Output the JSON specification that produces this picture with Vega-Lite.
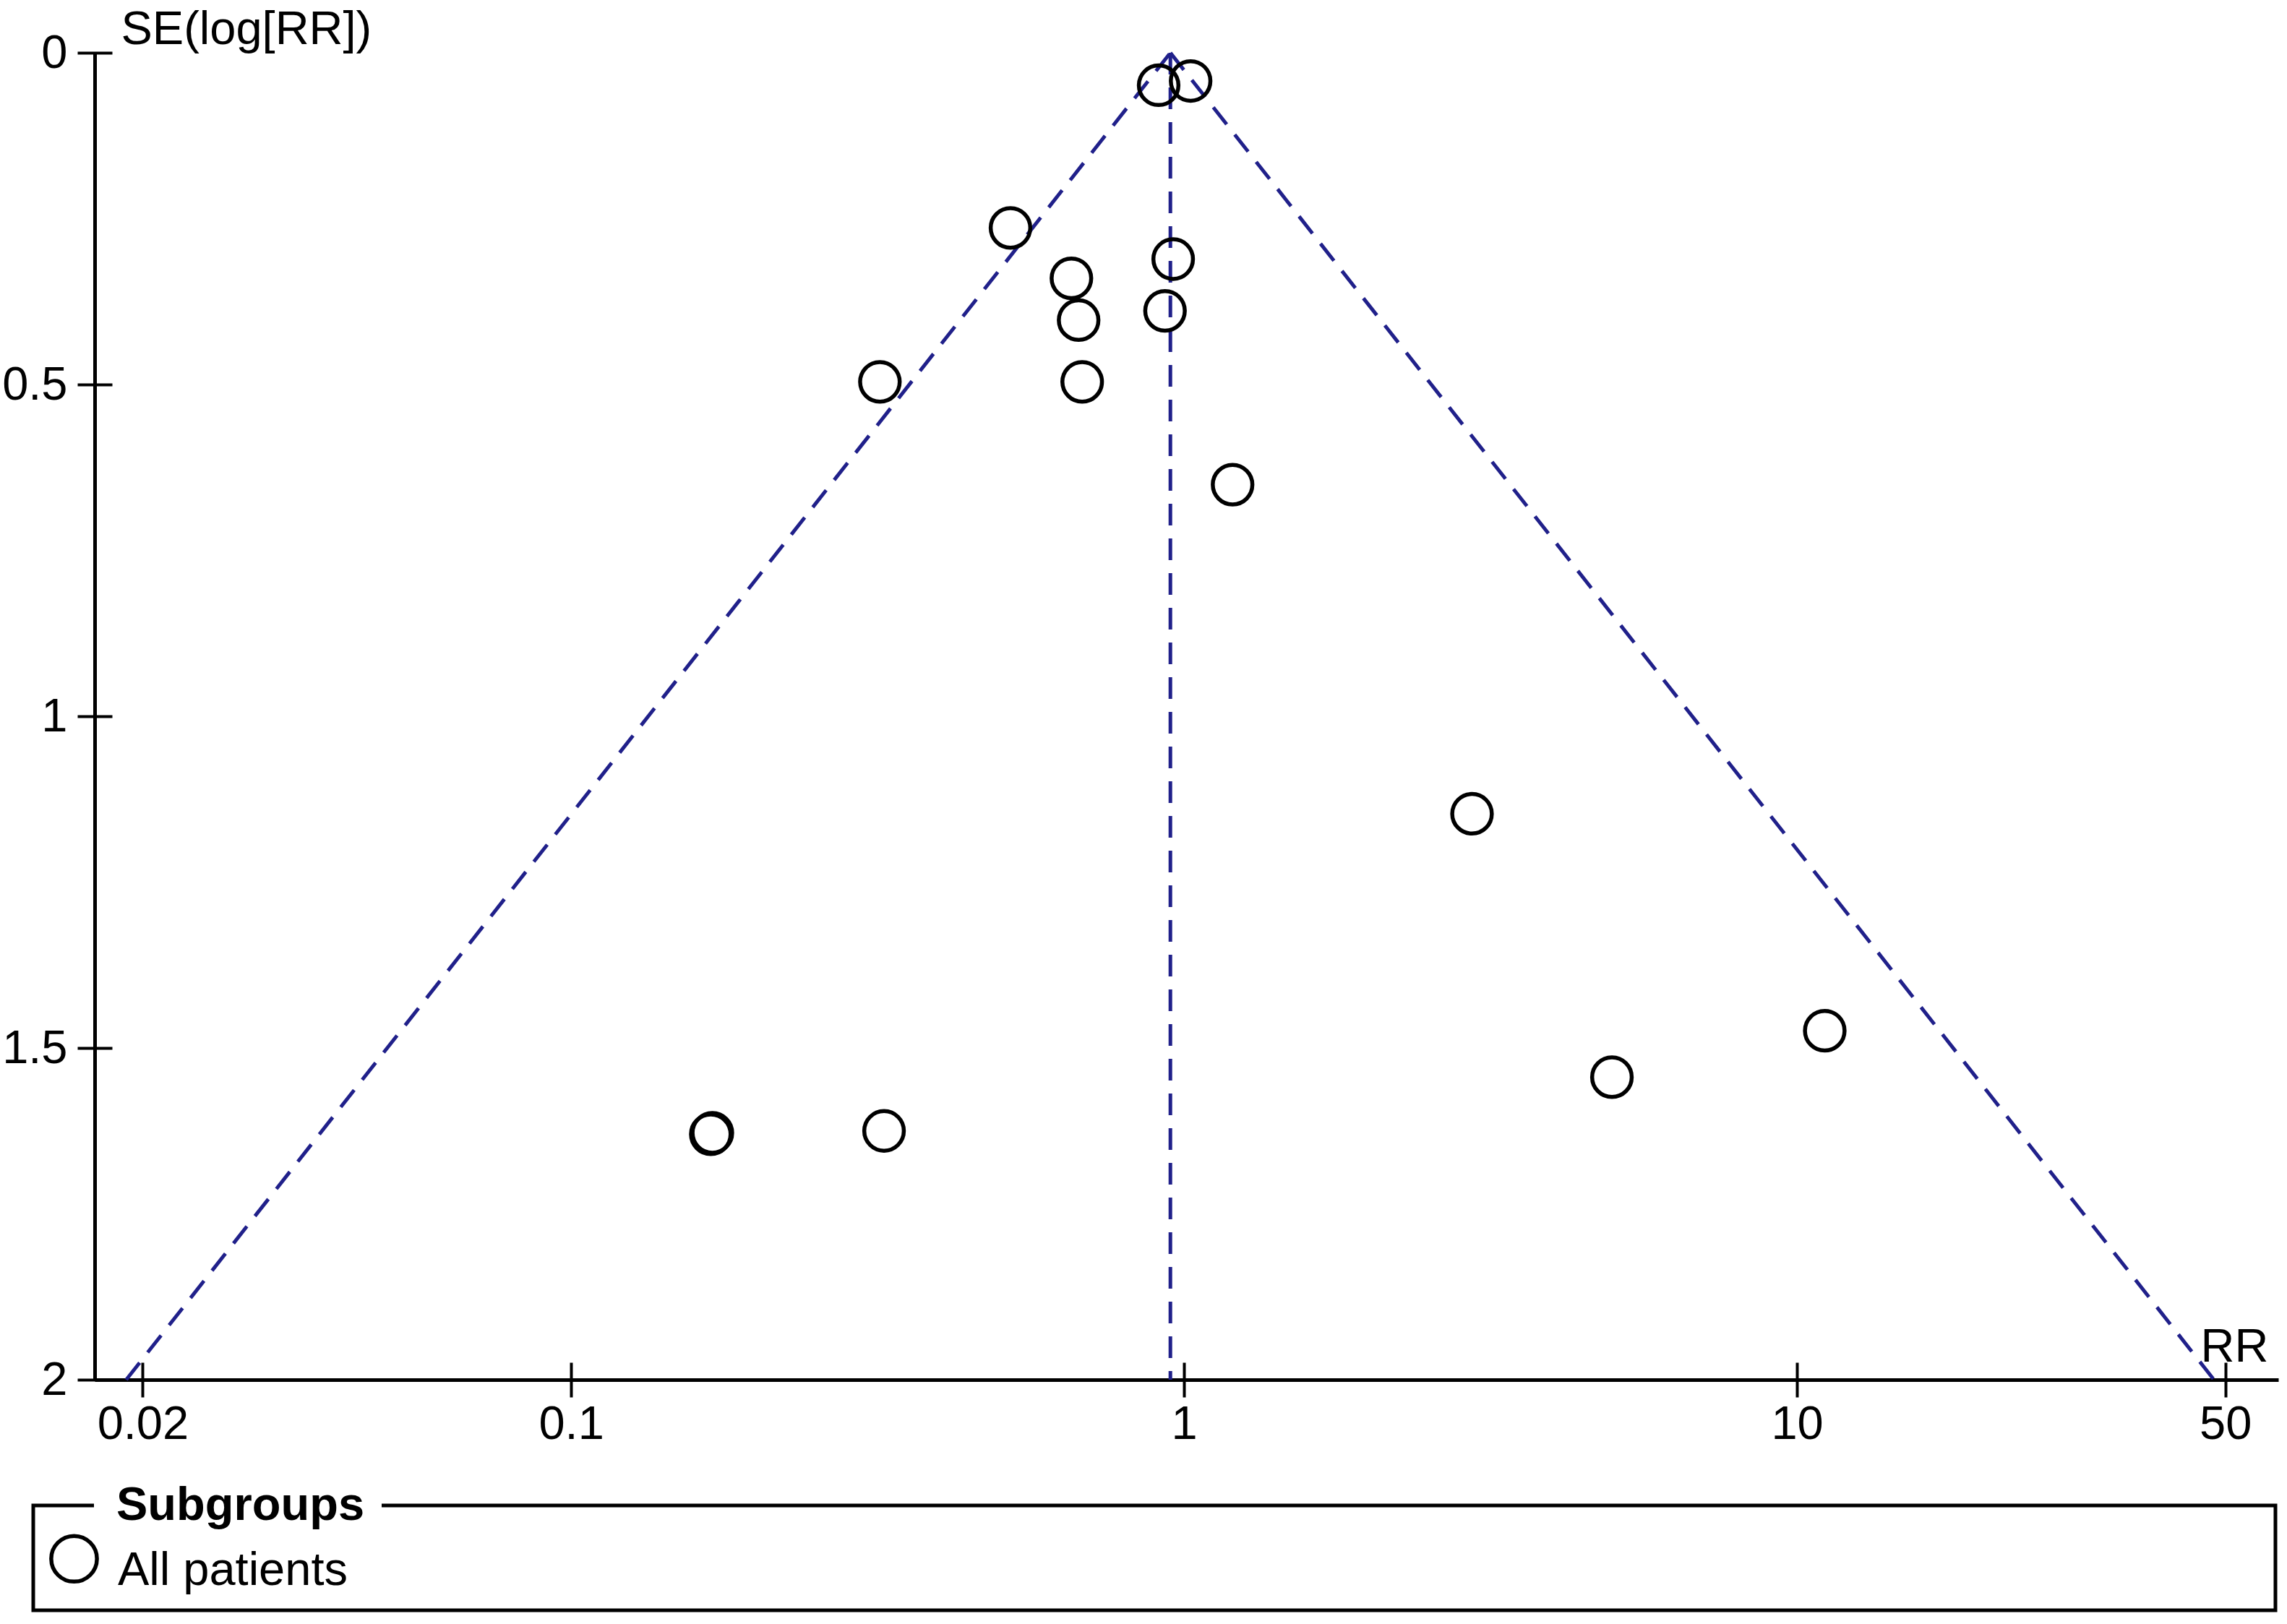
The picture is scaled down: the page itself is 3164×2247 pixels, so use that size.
{
  "$schema": "https://vega.github.io/schema/vega-lite/v6.json",
  "autosize": {"type": "none"},
  "width": 3021,
  "height": 1836,
  "padding": {"left": 131, "top": 73, "right": 12, "bottom": 338},
  "background": "white",
  "config": {"view": {"stroke": null}, "font": "Liberation Sans"},
  "datasets": {
    "studies": [
      {"RR": 0.909, "SE": 0.049, "group": "All patients"},
      {"RR": 1.025, "SE": 0.0425, "group": "All patients"},
      {"RR": 0.521, "SE": 0.264, "group": "All patients"},
      {"RR": 0.655, "SE": 0.340, "group": "All patients"},
      {"RR": 0.673, "SE": 0.403, "group": "All patients"},
      {"RR": 0.960, "SE": 0.311, "group": "All patients"},
      {"RR": 0.931, "SE": 0.389, "group": "All patients"},
      {"RR": 0.319, "SE": 0.496, "group": "All patients"},
      {"RR": 0.682, "SE": 0.496, "group": "All patients"},
      {"RR": 1.20, "SE": 0.651, "group": "All patients"},
      {"RR": 2.95, "SE": 1.147, "group": "All patients"},
      {"RR": 11.1, "SE": 1.474, "group": "All patients"},
      {"RR": 4.99, "SE": 1.544, "group": "All patients"},
      {"RR": 0.170, "SE": 1.628, "group": "All patients"},
      {"RR": 0.169, "SE": 1.630, "group": "All patients"},
      {"RR": 0.324, "SE": 1.625, "group": "All patients"}
    ],
    "funnel": [
      {"RR": 0.95, "SE": 0, "line": "left"},
      {"RR": 0.0188, "SE": 2, "line": "left"},
      {"RR": 0.95, "SE": 0, "line": "right"},
      {"RR": 47.9, "SE": 2, "line": "right"},
      {"RR": 0.95, "SE": 0, "line": "centre"},
      {"RR": 0.95, "SE": 2, "line": "centre"}
    ]
  },
  "layer": [
    {
      "data": {"name": "funnel"},
      "mark": {"type": "line", "strokeDash": [30, 18], "strokeWidth": 5, "color": "#20208a"},
      "encoding": {
        "x": {
          "field": "RR", "type": "quantitative",
          "scale": {"type": "log", "domain": [0.0167, 61], "nice": false},
          "axis": {
            "values": [0.02, 0.1, 1, 10, 50], "format": "~g", "grid": false,
            "title": "RR", "titleX": 3007, "titleY": -26, "titleAlign": "right", "titleBaseline": "alphabetic",
            "titleAngle": 0, "titleFontWeight": "normal", "titleFontSize": 65, "titleColor": "black",
            "labelFontSize": 65, "labelColor": "black", "labelPadding": 6, "labelFlush": false, "labelOverlap": false,
            "tickSize": 24, "tickWidth": 4, "tickColor": "black",
            "domainColor": "black", "domainWidth": 5,
            "encoding": {"ticks": {"y": {"value": -24}}}
          }
        },
        "y": {
          "field": "SE", "type": "quantitative",
          "scale": {"domain": [0, 2], "reverse": true, "nice": false, "zero": false},
          "axis": {
            "values": [0, 0.5, 1, 1.5, 2], "format": "~g", "grid": false,
            "title": "SE(log[RR])", "titleX": 36, "titleY": -13, "titleAngle": 0, "titleAlign": "left",
            "titleBaseline": "alphabetic", "titleFontWeight": "normal", "titleFontSize": 65, "titleColor": "black",
            "labelFontSize": 65, "labelColor": "black", "labelPadding": 14, "labelFlush": false, "labelOverlap": false,
            "tickSize": 24, "tickWidth": 4, "tickColor": "black",
            "domainColor": "black", "domainWidth": 5,
            "encoding": {"ticks": {"x": {"value": 24}}}
          }
        },
        "detail": {"field": "line", "type": "nominal"}
      }
    },
    {
      "data": {"name": "studies"},
      "mark": {"type": "point", "shape": "circle", "filled": false, "strokeWidth": 5.5, "size": 3000, "opacity": 1},
      "encoding": {
        "x": {"field": "RR", "type": "quantitative"},
        "y": {"field": "SE", "type": "quantitative"},
        "color": {
          "field": "group", "type": "nominal",
          "scale": {"range": ["black"]},
          "legend": {
            "title": "Subgroups",
            "values": ["All patients", ""],
            "columns": 2, "columnPadding": 2550,
            "orient": "none", "legendX": -85, "legendY": 2010,
            "strokeColor": "black", "padding": 22,
            "titleFontSize": 65, "titleFontWeight": "bold", "titleColor": "black", "titleBaseline": "middle",
            "titleLimit": 5000, "titlePadding": -48,
            "labelFontSize": 65, "labelColor": "black", "labelLimit": 2000, "labelOffset": 26,
            "symbolSize": 4000, "symbolStrokeWidth": 5.5, "symbolType": "circle",
            "symbolFillColor": "transparent", "symbolStrokeColor": "black",
            "encoding": {
              "title": {"dx": {"value": 93}, "dy": {"value": -22}},
              "labels": {"dy": {"value": 16}},
              "symbols": {"opacity": {"condition": {"test": "datum.value === ''", "value": 0}, "value": 1}},
              "legend": {"strokeDash": {"value": [84, 398, 100000]}, "strokeWidth": {"value": 5}}
            }
          }
        }
      }
    }
  ]
}
